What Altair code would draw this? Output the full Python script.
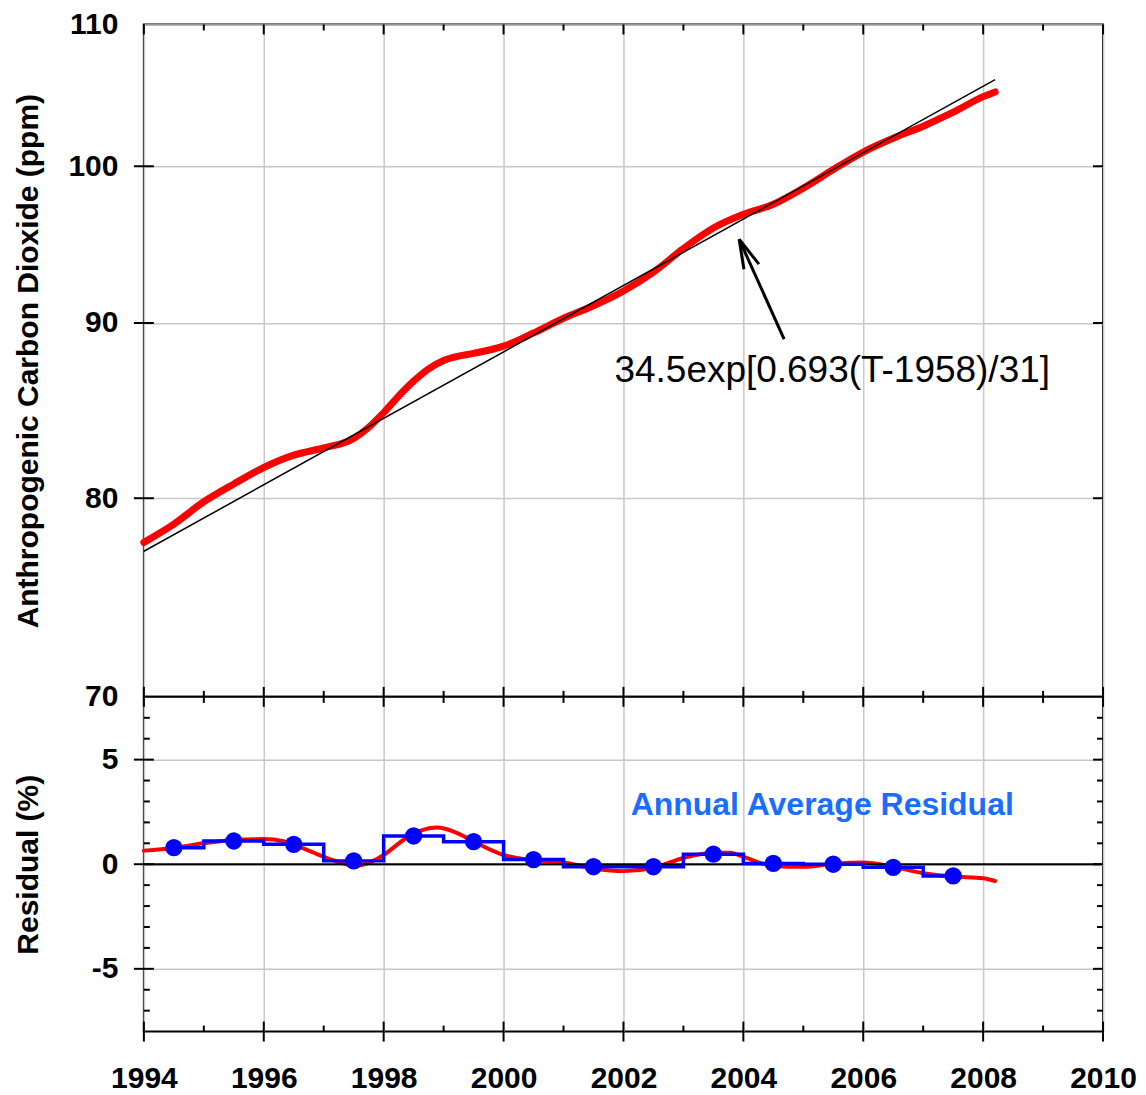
import altair as alt
import pandas as pd

# ---------------- data ----------------
fit_years = [1994.0, 2008.2]
fit_ppm = [77.2, 106.0]

co2_years = [1994.0, 1994.5, 1995.0, 1995.5, 1996.0, 1996.5, 1997.0, 1997.5, 1997.75,
             1998.0, 1998.33, 1998.5, 1998.75, 1999.0, 1999.25, 1999.5, 2000.0, 2000.5,
             2001.0, 2001.5, 2002.0, 2002.5, 2003.0, 2003.5, 2004.0, 2004.5, 2005.0,
             2005.5, 2006.0, 2006.5, 2007.0, 2007.5, 2008.0, 2008.2]
co2_ppm = [77.66, 78.62, 79.81, 80.77, 81.67, 82.35, 82.75, 83.28, 83.9,
           84.74, 85.98, 86.55, 87.27, 87.76, 88.02, 88.18, 88.61, 89.40,
           90.29, 91.05, 91.96, 93.13, 94.62, 95.93, 96.82, 97.48, 98.54,
           99.78, 100.96, 101.90, 102.73, 103.70, 104.79, 105.12]

resid_years = [1994.0, 1994.5, 1995.0, 1995.5, 1996.0, 1996.33, 1996.67, 1997.0, 1997.33,
               1997.5, 1997.78, 1998.0, 1998.33, 1998.61, 1998.89, 1999.17, 1999.5, 2000.0,
               2000.5, 2001.0, 2001.5, 2002.0, 2002.5, 2003.0, 2003.5, 2003.78, 2004.0,
               2004.5, 2005.0, 2005.5, 2006.0, 2006.5, 2007.0, 2007.5, 2008.0, 2008.2]
resid_pct = [0.65, 0.78, 1.0, 1.16, 1.2, 1.10, 0.75, 0.35, 0.03,
             -0.08, 0.1, 0.44, 1.16, 1.59, 1.75, 1.56, 1.08, 0.44,
             0.2, 0.08, -0.2, -0.33, -0.17, 0.3, 0.55, 0.55, 0.35,
             -0.08, -0.12, 0.02, 0.08, -0.12, -0.43, -0.59, -0.67, -0.8]

annual_years = [1994.5, 1995.5, 1996.5, 1997.5, 1998.5, 1999.5, 2000.5,
                2001.5, 2002.5, 2003.5, 2004.5, 2005.5, 2006.5, 2007.5]
annual_resid = [0.79, 1.11, 0.95, 0.16, 1.35, 1.08, 0.22,
                -0.12, -0.12, 0.48, 0.04, 0.0, -0.15, -0.56]

year_major = [1994, 1996, 1998, 2000, 2002, 2004, 2006, 2008, 2010]
year_minor = [1995, 1997, 1999, 2001, 2003, 2005, 2007, 2009]
ppm_labels = [70, 80, 90, 100, 110]
ppm_major = [80, 90, 100]
resid_major = [-5, 0, 5]
resid_minor = [-7, -6, -4, -3, -2, -1, 1, 2, 3, 4, 6, 7]

formula_text = ["34.5exp[0.693(T-1958)/31]"]
formula_year = [2001.85]
formula_ppm = [86.49]
residual_text = ["Annual Average Residual"]
residual_text_year = [2002.12]
residual_text_pct = [2.35]

arrow_seg = ["shaft", "shaft", "w1", "w1", "w2", "w2"]
arrow_year = [2004.68, 2003.93, 2004.01, 2003.93, 2004.26, 2003.93]
arrow_ppm = [89.03, 95.21, 93.31, 95.21, 93.63, 95.21]
arrow_ord = [0, 1, 0, 1, 0, 1]

# ---------------- styling ----------------
FONT = "Liberation Sans, Arial, Helvetica, sans-serif"
W = 960
H_TOP = 673
H_BOT = 335
GRID = "#c8c8c8"
LBL = 30
TTL = 30

xs = alt.Scale(domain=[1994, 2010], nice=False, zero=False)
ys_top = alt.Scale(type="log", domain=[70, 110], nice=False)
ys_bot = alt.Scale(domain=[-8, 8], nice=False, zero=False)


def xtick_layer(vals, y0, y1):
    return alt.Chart(pd.DataFrame({"year": vals})).mark_rule(color="black", strokeWidth=2).encode(
        x=alt.X("year:Q", scale=xs), y=alt.value(y0), y2=alt.value(y1))


def ytick_layer(vals, field, scale, x0, x1):
    return alt.Chart(pd.DataFrame({field: vals})).mark_rule(color="black", strokeWidth=2).encode(
        y=alt.Y(field + ":Q", scale=scale), x=alt.value(x0), x2=alt.value(x1))


# ---------------- top panel ----------------
co2_df = pd.DataFrame({"year": co2_years, "ppm": co2_ppm})
fit_df = pd.DataFrame({"year": fit_years, "ppm": fit_ppm})
arrow_df = pd.DataFrame({"seg": arrow_seg, "year": arrow_year, "ppm": arrow_ppm, "o": arrow_ord})

red_top = alt.Chart(co2_df).mark_line(color="#ff0000", strokeWidth=7, strokeCap="round",
                                      interpolate="monotone").encode(
    x=alt.X("year:Q", scale=xs,
            axis=alt.Axis(values=year_major, labels=False, ticks=False, domain=False, grid=True,
                          gridColor=GRID, gridWidth=1.5, title=None, labelFlush=False)),
    y=alt.Y("ppm:Q", scale=ys_top,
            axis=alt.Axis(values=ppm_labels, ticks=False, domain=False, grid=True,
                          gridColor=GRID, gridWidth=1.5, labelPadding=26, format="d",
                          labelFont=FONT, labelFontSize=LBL, labelFontWeight="bold",
                          labelColor="black", labelFlush=False,
                          title="Anthropogenic Carbon Dioxide (ppm)", titleFont=FONT,
                          titleFontSize=TTL, titleFontWeight="bold", titleColor="black",
                          titleX=-106, titleY=H_TOP / 2, titleAngle=270,
                          titleAlign="center", titleBaseline="alphabetic")),
)

fit_line = alt.Chart(fit_df).mark_line(color="black", strokeWidth=1.5).encode(
    x=alt.X("year:Q", scale=xs), y=alt.Y("ppm:Q", scale=ys_top))

arrow = alt.Chart(arrow_df).mark_line(color="black", strokeWidth=3).encode(
    x=alt.X("year:Q", scale=xs), y=alt.Y("ppm:Q", scale=ys_top),
    detail="seg:N", order="o:Q")

formula = alt.Chart(pd.DataFrame({"t": formula_text, "year": formula_year, "ppm": formula_ppm})).mark_text(
    align="left", baseline="alphabetic", font=FONT, fontSize=37, color="black").encode(
    x=alt.X("year:Q", scale=xs), y=alt.Y("ppm:Q", scale=ys_top), text="t:N")

top = alt.layer(
    red_top, fit_line, arrow, formula,
    xtick_layer(year_major, 0, 10), xtick_layer(year_minor, 0, 6),
    xtick_layer(year_major, H_TOP, H_TOP - 10), xtick_layer(year_minor, H_TOP, H_TOP - 6),
    ytick_layer(ppm_major, "ppm", ys_top, -10, 10), ytick_layer(ppm_major, "ppm", ys_top, W - 10, W),
).properties(width=W, height=H_TOP)

# ---------------- bottom panel ----------------
res_df = pd.DataFrame({"year": resid_years, "pct": resid_pct})
ann_df = pd.DataFrame({"year": annual_years, "pct": annual_resid})

red_bot = alt.Chart(res_df).mark_line(color="#ff0000", strokeWidth=4, strokeCap="round",
                                      interpolate="monotone").encode(
    x=alt.X("year:Q", scale=xs,
            axis=alt.Axis(values=year_major, ticks=False, domain=False, grid=True,
                          gridColor=GRID, gridWidth=1.5, labelPadding=32, format="d",
                          labelFont=FONT, labelFontSize=LBL, labelFontWeight="bold",
                          labelColor="black", title=None, labelFlush=False,
                          labelOverlap=False, labelBound=False)),
    y=alt.Y("pct:Q", scale=ys_bot,
            axis=alt.Axis(values=resid_major, ticks=False, domain=False, grid=True,
                          gridColor=GRID, gridWidth=1.5, labelPadding=26,
                          labelExpr="'' + datum.value", labelFlush=False,
                          labelFont=FONT, labelFontSize=LBL, labelFontWeight="bold",
                          labelColor="black",
                          title="Residual (%)", titleFont=FONT,
                          titleFontSize=TTL, titleFontWeight="bold", titleColor="black",
                          titleX=-106, titleY=H_BOT / 2, titleAngle=270,
                          titleAlign="center", titleBaseline="alphabetic")),
)

zero_line = alt.Chart(pd.DataFrame({"pct": [0]})).mark_rule(color="black", strokeWidth=2).encode(
    y=alt.Y("pct:Q", scale=ys_bot), x=alt.value(0), x2=alt.value(W))

step = alt.Chart(ann_df).mark_line(color="#0000ff", strokeWidth=3.5, interpolate="step").encode(
    x=alt.X("year:Q", scale=xs), y=alt.Y("pct:Q", scale=ys_bot))

dots = alt.Chart(ann_df).mark_point(filled=True, color="#0000ff", size=300, opacity=1).encode(
    x=alt.X("year:Q", scale=xs), y=alt.Y("pct:Q", scale=ys_bot))

res_label = alt.Chart(pd.DataFrame({"t": residual_text, "year": residual_text_year,
                                    "pct": residual_text_pct})).mark_text(
    align="left", baseline="alphabetic", font=FONT, fontSize=32, fontWeight="bold",
    color="#1a6eff").encode(
    x=alt.X("year:Q", scale=xs), y=alt.Y("pct:Q", scale=ys_bot), text="t:N")

bottom = alt.layer(
    red_bot, zero_line, step, dots, res_label,
    xtick_layer(year_major, 0, 10), xtick_layer(year_minor, 0, 6),
    xtick_layer(year_major, H_BOT - 10, H_BOT + 10), xtick_layer(year_minor, H_BOT, H_BOT - 6),
    ytick_layer(resid_major, "pct", ys_bot, -10, 10), ytick_layer(resid_minor, "pct", ys_bot, 0, 6),
    ytick_layer(resid_major, "pct", ys_bot, W - 10, W), ytick_layer(resid_minor, "pct", ys_bot, W - 6, W),
).properties(width=W, height=H_BOT)

chart = alt.vconcat(top, bottom, spacing=0, bounds="flush").properties(
    background="white",
    padding={"left": 4, "top": 0, "right": 0, "bottom": 0},
).configure_view(stroke="black", strokeWidth=2)

chart.save("out.html", embed_options={"renderer": "svg", "actions": False})
